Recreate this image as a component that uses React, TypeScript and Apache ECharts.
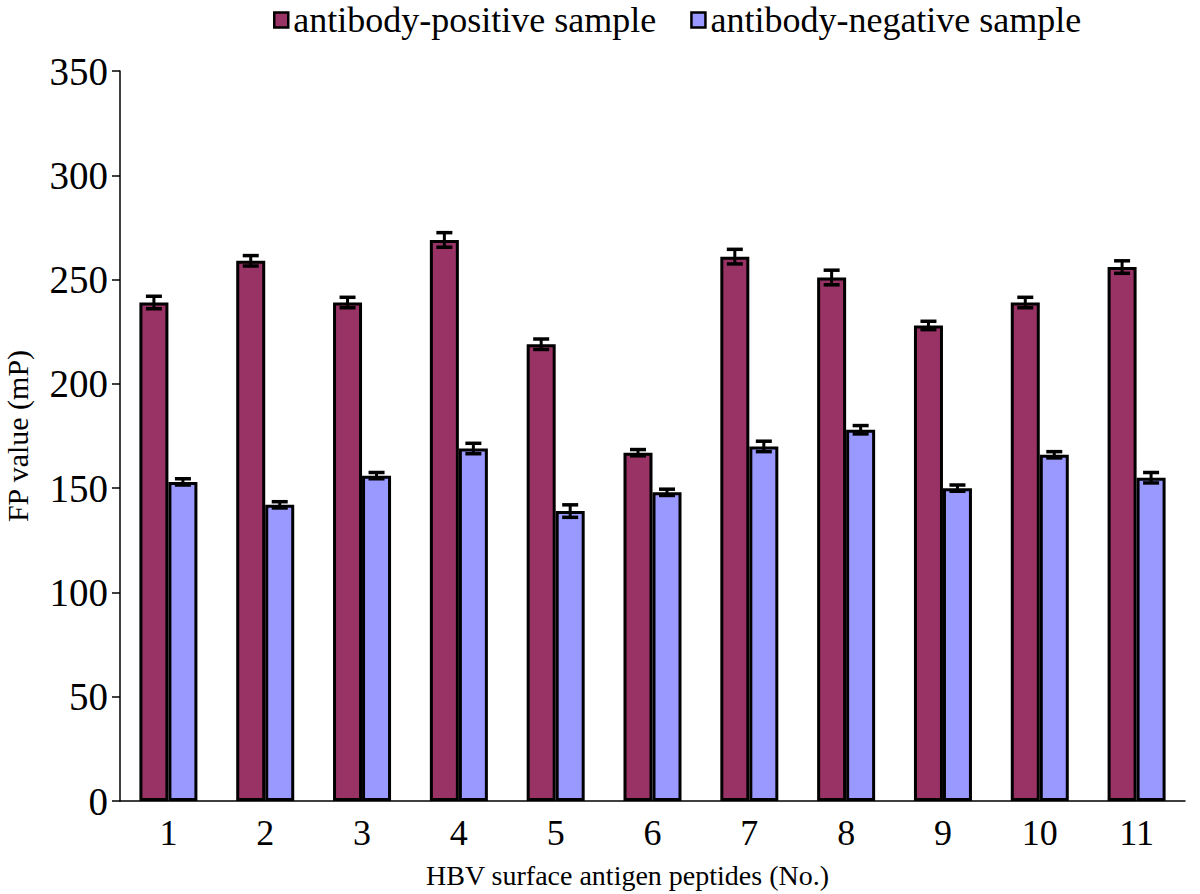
import React, { useEffect, useRef } from "react";
import * as echarts from "echarts";

const categories = ["1", "2", "3", "4", "5", "6", "7", "8", "9", "10", "11"];
const positive = [239, 259, 239, 269, 219, 167, 261, 251, 228, 239, 256];
const negative = [153, 142, 156, 169, 139, 148, 170, 178, 150, 166, 155];
const positiveErr = [3, 2.5, 2.5, 3.5, 2.5, 1.5, 3.5, 3.5, 2, 2.5, 3];
const negativeErr = [1.5, 1.5, 1.5, 2.5, 3, 1.5, 2.5, 2, 1.5, 1.5, 2.5];
const seriesNames = ["antibody-positive sample", "antibody-negative sample"];
const yTicks = { min: 0, max: 350, interval: 50 };

const FONT = "'Liberation Serif', 'DejaVu Serif', serif";
const BAR_W = 29;

function errorSeries(name: string, vals: number[], errs: number[], offset: number) {
  return {
    type: "custom",
    name: name + " error",
    z: 5,
    silent: true,
    data: categories.map((_, i) => [i, vals[i], errs[i]]),
    renderItem: (params: any, api: any) => {
      const idx = api.value(0);
      const v = api.value(1);
      const e = api.value(2);
      const top = api.coord([idx, v + e]);
      const bot = api.coord([idx, v - e]);
      const x = top[0] + offset;
      const cap = 8;
      return {
        type: "group",
        children: [
          { type: "line", shape: { x1: x, y1: top[1], x2: x, y2: bot[1] }, style: { stroke: "#000", lineWidth: 3 } },
          { type: "line", shape: { x1: x - cap, y1: top[1], x2: x + cap, y2: top[1] }, style: { stroke: "#000", lineWidth: 3.5 } },
          { type: "line", shape: { x1: x - cap, y1: bot[1], x2: x + cap, y2: bot[1] }, style: { stroke: "#000", lineWidth: 3.5 } },
        ],
      };
    },
  };
}

export default function App() {
  const ref = useRef<HTMLDivElement>(null);
  useEffect(() => {
    if (!ref.current) return;
    const chart = echarts.init(ref.current, undefined, { renderer: "svg" });
    chart.setOption({
      animation: false,
      backgroundColor: "#fff",
      textStyle: { fontFamily: FONT },
      legend: {
        data: seriesNames,
        left: 268,
        top: -3,
        itemWidth: 14,
        itemHeight: 15,
        itemGap: 34,
        icon: "rect",
        itemStyle: { borderColor: "#000", borderWidth: 2.5 },
        textStyle: { fontFamily: FONT, fontSize: 36, color: "#000" },
      },
      grid: { left: 120, right: 15, top: 71, bottom: 93, outerBoundsMode: "none" },
      xAxis: {
        type: "category",
        data: categories,
        axisLine: { lineStyle: { color: "#000", width: 1.5 } },
        axisTick: { show: false },
        axisLabel: { fontFamily: FONT, fontSize: 36, color: "#000", margin: 14 },
        name: "HBV surface antigen peptides (No.)",
        nameLocation: "middle",
        nameGap: 60,
        nameTextStyle: { fontFamily: FONT, fontSize: 28, color: "#000", padding: [0, 50, 0, 0] },
      },
      yAxis: {
        type: "value",
        min: yTicks.min,
        max: yTicks.max,
        interval: yTicks.interval,
        splitLine: { show: false },
        axisLine: { show: true, lineStyle: { color: "#000", width: 1.5 } },
        axisTick: { show: true, inside: false, length: 8, lineStyle: { color: "#000", width: 1.5 } },
        axisLabel: { fontFamily: FONT, fontSize: 39, color: "#000", margin: 12 },
        name: "FP value (mP)",
        nameLocation: "middle",
        nameRotate: 90,
        nameGap: 88,
        nameTextStyle: { fontFamily: FONT, fontSize: 30, color: "#000" },
      },
      series: [
        {
          type: "bar",
          name: seriesNames[0],
          data: positive,
          barWidth: BAR_W,
          barGap: "0%",
          itemStyle: { color: "#993366", borderColor: "#000", borderWidth: 3 },
        },
        {
          type: "bar",
          name: seriesNames[1],
          data: negative,
          barWidth: BAR_W,
          barGap: "0%",
          itemStyle: { color: "#9999FF", borderColor: "#000", borderWidth: 3 },
        },
        errorSeries(seriesNames[0], positive, positiveErr, -BAR_W / 2),
        errorSeries(seriesNames[1], negative, negativeErr, BAR_W / 2),
      ],
    });
    return () => chart.dispose();
  }, []);
  return <div ref={ref} style={{ position: "absolute", left: 0, top: 0, width: 1200, height: 894 }} />;
}
